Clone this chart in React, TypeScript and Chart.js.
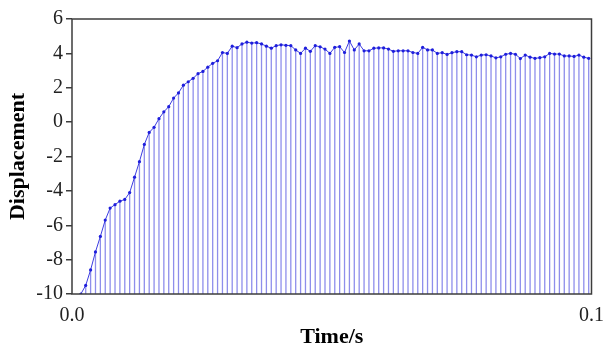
import React, { useEffect, useRef } from "react";
import { Chart, registerables } from "chart.js";

Chart.register(...registerables);

const times = [
  0.0017, 0.00264, 0.00358, 0.00452, 0.00546, 0.0064, 0.00734, 0.00828, 0.00922, 0.01016,
  0.0111, 0.01204, 0.01298, 0.01392, 0.01486, 0.0158, 0.01674, 0.01768, 0.01862, 0.01956,
  0.0205, 0.02144, 0.02238, 0.02332, 0.02426, 0.0252, 0.02614, 0.02708, 0.02802, 0.02896,
  0.0299, 0.03084, 0.03178, 0.03272, 0.03366, 0.0346, 0.03554, 0.03648, 0.03742, 0.03836,
  0.0393, 0.04024, 0.04118, 0.04212, 0.04306, 0.044, 0.04494, 0.04588, 0.04682, 0.04776,
  0.0487, 0.04964, 0.05058, 0.05152, 0.05246, 0.0534, 0.05434, 0.05528, 0.05622, 0.05716,
  0.0581, 0.05904, 0.05998, 0.06092, 0.06186, 0.0628, 0.06374, 0.06468, 0.06562, 0.06656,
  0.0675, 0.06844, 0.06938, 0.07032, 0.07126, 0.0722, 0.07314, 0.07408, 0.07502, 0.07596,
  0.0769, 0.07784, 0.07878, 0.07972, 0.08066, 0.0816, 0.08254, 0.08348, 0.08442, 0.08536,
  0.0863, 0.08724, 0.08818, 0.08912, 0.09006, 0.091, 0.09194, 0.09288, 0.09382, 0.09476,
  0.0957, 0.09664, 0.09758, 0.09852, 0.09946,
];

const displacement = [
  -10, -9.5, -8.6, -7.55, -6.65, -5.7, -5.0, -4.8, -4.6, -4.5,
  -4.1, -3.2, -2.3, -1.3, -0.6, -0.3, 0.2, 0.6, 0.9, 1.4,
  1.7, 2.15, 2.35, 2.55, 2.82, 2.95, 3.2, 3.42, 3.57, 4.05,
  4.0, 4.42, 4.33, 4.55, 4.65, 4.6, 4.62, 4.55, 4.42, 4.3,
  4.45, 4.5, 4.47, 4.45, 4.2, 4.0, 4.3, 4.12, 4.45, 4.38,
  4.25, 4.0, 4.35, 4.39, 4.05, 4.72, 4.2, 4.55, 4.15, 4.15,
  4.3, 4.32, 4.32, 4.25, 4.12, 4.15, 4.15, 4.15, 4.05, 4.0,
  4.35, 4.2, 4.2, 4.0, 4.04, 3.94, 4.04, 4.1, 4.1, 3.92,
  3.9, 3.8, 3.9, 3.92, 3.85, 3.74, 3.8, 3.95, 4.0, 3.95,
  3.7, 3.9, 3.78, 3.71, 3.75, 3.8, 4.0, 3.96, 3.96, 3.85,
  3.85, 3.82, 3.9, 3.78, 3.71,
];

const yTickValues = [-10, -8, -6, -4, -2, 0, 2, 4, 6];
const xTickValues = [0, 0.1];
const xTickLabels = ["0.0", "0.1"];

const FONT = "'Liberation Serif', 'Times New Roman', serif";

export default function App() {
  const ref = useRef<HTMLCanvasElement | null>(null);

  useEffect(() => {
    if (!ref.current) return;

    const stemPlugin = {
      id: "stems",
      beforeDatasetsDraw(chart: any) {
        const meta = chart.getDatasetMeta(0);
        const ctx = chart.ctx;
        const base = chart.scales.y.getPixelForValue(-10);
        ctx.save();
        ctx.strokeStyle = "rgba(60,60,220,0.58)";
        ctx.lineWidth = 1.3;
        meta.data.forEach((pt: any) => {
          ctx.beginPath();
          ctx.moveTo(pt.x, pt.y);
          ctx.lineTo(pt.x, base);
          ctx.stroke();
        });
        ctx.restore();
      },
    };

    const framePlugin = {
      id: "frame",
      afterDraw(chart: any) {
        const { ctx, chartArea } = chart;
        const { left, top, right, bottom } = chartArea;
        ctx.save();
        ctx.strokeStyle = "#3c3c3c";
        ctx.lineWidth = 1.5;
        ctx.strokeRect(left, top, right - left, bottom - top);
        ctx.restore();
      },
    };

    const chart = new Chart(ref.current, {
      type: "line",
      data: {
        datasets: [
          {
            data: times.map((t, i) => ({ x: t, y: displacement[i] })),
            borderColor: "rgb(60,60,225)",
            borderWidth: 1,
            pointRadius: 1.6,
            pointBorderWidth: 0,
            pointBackgroundColor: "rgb(30,30,220)",
            tension: 0,
            fill: false,
          },
        ],
      },
      options: {
        responsive: false,
        animation: false,
        devicePixelRatio: 1,
        layout: { padding: { top: 19, right: 14, left: 0, bottom: 0 } },
        plugins: { legend: { display: false }, tooltip: { enabled: false } },
        scales: {
          x: {
            type: "linear",
            min: 0,
            max: 0.1,
            afterFit: (s: any) => {
              s.height = 53;
            },
            afterBuildTicks: (s: any) => {
              s.ticks = xTickValues.map((v) => ({ value: v }));
            },
            ticks: {
              autoSkip: false,
              maxRotation: 0,
              padding: 2,
              color: "#222",
              font: { family: FONT, size: 20 },
              callback: (_v: any, i: number) => xTickLabels[i],
            },
            grid: { display: false },
            border: { display: false },
            title: {
              display: true,
              text: "Time/s",
              color: "#000",
              font: { family: FONT, size: 22, weight: "bold", lineHeight: 1 },
              padding: { top: 0, bottom: -1 },
            },
          },
          y: {
            type: "linear",
            min: -10,
            max: 6,
            afterFit: (s: any) => {
              s.width = 72;
            },
            afterBuildTicks: (s: any) => {
              s.ticks = yTickValues.map((v) => ({ value: v }));
            },
            ticks: {
              padding: 3,
              color: "#222",
              font: { family: FONT, size: 20 },
              callback: (v: any) => String(v),
            },
            grid: {
              drawOnChartArea: false,
              drawTicks: true,
              tickLength: 6,
              color: "#3c3c3c",
              lineWidth: 1.5,
            },
            border: { display: false },
            title: {
              display: true,
              text: "Displacement",
              color: "#000",
              font: { family: FONT, size: 22, weight: "bold", lineHeight: 1 },
              padding: { top: 7, bottom: 0 },
            },
          },
        },
      },
      plugins: [stemPlugin, framePlugin],
    });

    return () => chart.destroy();
  }, []);

  return (
    <div style={{ position: "absolute", left: 0, top: 0, width: 606, height: 347 }}>
      <canvas ref={ref} width={606} height={347} style={{ display: "block" }} />
    </div>
  );
}
